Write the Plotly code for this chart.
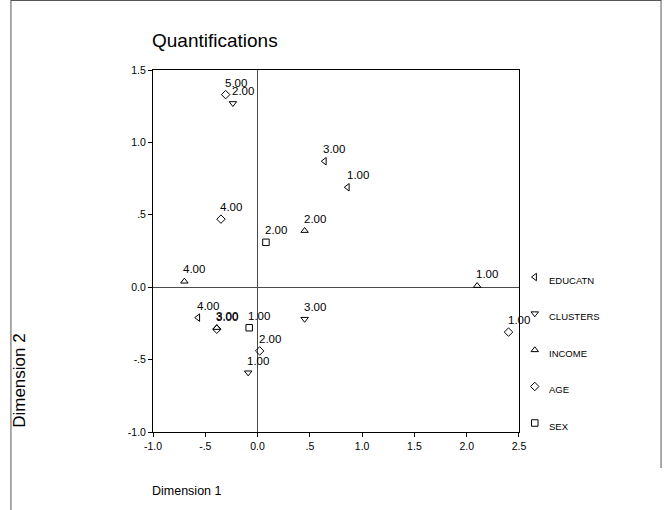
import plotly.graph_objects as go

# ---------------- data ----------------
variables = ["EDUCATN", "CLUSTERS", "INCOME", "AGE", "SEX"]
symbols = ["triangle-left-open", "triangle-down-open", "triangle-up-open",
           "diamond-open", "square-open"]

educatn_cat = ["1.00", "3.00", "4.00"]
educatn_x = [0.86, 0.64, -0.57]
educatn_y = [0.69, 0.87, -0.21]

clusters_cat = ["1.00", "2.00", "3.00"]
clusters_x = [-0.09, -0.236, 0.45]
clusters_y = [-0.59, 1.27, -0.22]

income_cat = ["1.00", "2.00", "3.00", "4.00"]
income_x = [2.10, 0.45, -0.39, -0.70]
income_y = [0.01, 0.39, -0.28, 0.04]

age_cat = ["1.00", "2.00", "3.00", "4.00", "5.00"]
age_x = [2.40, 0.02, -0.39, -0.35, -0.305]
age_y = [-0.31, -0.44, -0.29, 0.47, 1.33]

sex_cat = ["1.00", "2.00"]
sex_x = [-0.08, 0.08]
sex_y = [-0.28, 0.31]

series = [
    (educatn_cat, educatn_x, educatn_y),
    (clusters_cat, clusters_x, clusters_y),
    (income_cat, income_x, income_y),
    (age_cat, age_x, age_y),
    (sex_cat, sex_x, sex_y),
]

tick_vals = [-1.0, -0.5, 0.0, 0.5, 1.0, 1.5, 2.0, 2.5]
tick_text = ["-1.0", "-.5", "0.0", ".5", "1.0", "1.5", "2.0", "2.5"]
ytick_vals = [-1.0, -0.5, 0.0, 0.5, 1.0, 1.5]
ytick_text = ["-1.0", "-.5", "0.0", ".5", "1.0", "1.5"]

title_text = "Quantifications"
xtitle = "Dimension 1"
ytitle = "Dimension 2"

# ---------------- layout helpers ----------------
W, H = 671, 510
L, R, T, B = 153, 0, 70, 78
PW, PH = W - L - R, H - T - B
PLOT_RIGHT = 524


def px_x(px):
    return (px - L) / PW


def px_y(py):
    return (H - B - py) / PH


FONT = "Liberation Sans Narrow, Arial Narrow, Liberation Sans, Arial, sans-serif"

fig = go.Figure()

for (cats, xs, ys), name, sym in zip(series, variables, symbols):
    fig.add_trace(go.Scatter(
        x=xs, y=ys, mode="markers", name=name,
        marker=dict(symbol=sym, size=6.5, color="black",
                    line=dict(color="black", width=1)),
        showlegend=False, hoverinfo="skip",
    ))
    for c, xv, yv in zip(cats, xs, ys):
        fig.add_annotation(x=xv, y=yv, text=c, showarrow=False,
                           xanchor="left", yanchor="bottom",
                           xshift=-3, yshift=4,
                           font=dict(family=FONT, size=11.5, color="black"))

# legend drawn on a secondary axis
leg_idx = list(range(len(variables)))
leg_x0, leg_x1 = 535, 671
fig.add_trace(go.Scatter(
    x=[(540 - leg_x0) / (leg_x1 - leg_x0)] * len(variables), y=leg_idx,
    mode="markers",
    xaxis="x2", yaxis="y2", showlegend=False, hoverinfo="skip",
    marker=dict(symbol=symbols, size=6.5, color="black",
                line=dict(color="black", width=1)),
))
for i, name in zip(leg_idx, variables):
    fig.add_annotation(x=(552 - leg_x0) / (leg_x1 - leg_x0), y=i,
                       xref="x2", yref="y2", text=name,
                       showarrow=False, xanchor="left", yanchor="middle",
                       yshift=-3,
                       font=dict(family=FONT, size=9.5, color="black"))

# legend vertical mapping: item 0 at 277px, spacing 36.5px
y_top = (T - 277) / 36.5
y_bot = (H - B - 277) / 36.5

fig.update_layout(
    width=W, height=H,
    margin=dict(l=L, r=R, t=T, b=B),
    paper_bgcolor="white", plot_bgcolor="white",
    showlegend=False,
    xaxis=dict(domain=[0, px_x(PLOT_RIGHT)], range=[-1.0, 2.5],
               tickvals=tick_vals, ticktext=tick_text,
               showgrid=False, zeroline=True, zerolinecolor="#4a4a4a",
               zerolinewidth=1.3,
               showline=True, linecolor="black", linewidth=1, mirror=True,
               ticks="outside", ticklen=4, tickcolor="black",
               tickfont=dict(family=FONT, size=10.5, color="black")),
    yaxis=dict(domain=[0, 1], range=[-1.0, 1.5],
               tickvals=ytick_vals, ticktext=ytick_text,
               showgrid=False, zeroline=True, zerolinecolor="#4a4a4a",
               zerolinewidth=1.3,
               showline=True, linecolor="black", linewidth=1, mirror=True,
               ticks="outside", ticklen=4, tickcolor="black",
               tickfont=dict(family=FONT, size=10.5, color="black")),
    xaxis2=dict(domain=[px_x(leg_x0), 1], range=[0, 1], visible=False,
                anchor="y2"),
    yaxis2=dict(domain=[0, 1], range=[y_bot, y_top], visible=False,
                anchor="x2"),
)

# titles
fig.add_annotation(x=px_x(150), y=px_y(40), xref="paper", yref="paper",
                   text=title_text, showarrow=False, xanchor="left",
                   yanchor="middle",
                   font=dict(family=FONT, size=19, color="black"))
fig.add_annotation(x=px_x(150), y=px_y(491), xref="paper", yref="paper",
                   text=xtitle, showarrow=False, xanchor="left",
                   yanchor="middle",
                   font=dict(family=FONT, size=12.5, color="black"))
fig.add_annotation(x=px_x(17), y=px_y(380), xref="paper", yref="paper",
                   text=ytitle, showarrow=False, xanchor="center",
                   yanchor="middle", textangle=-90,
                   font=dict(family="Liberation Sans, Arial, sans-serif",
                             size=17, color="black"))

# outer border (left full height, top, right)
fig.add_shape(type="line", xref="paper", yref="paper",
              x0=px_x(9), x1=px_x(9), y0=px_y(0), y1=px_y(H),
              line=dict(color="#555555", width=1))
fig.add_shape(type="line", xref="paper", yref="paper",
              x0=px_x(9), x1=px_x(668), y0=px_y(0.5), y1=px_y(0.5),
              line=dict(color="#555555", width=1))
fig.add_shape(type="line", xref="paper", yref="paper",
              x0=px_x(668), x1=px_x(668), y0=px_y(0), y1=px_y(468),
              line=dict(color="#555555", width=1))

fig.write_html(
    "out.html",
    config={"displayModeBar": False},
    post_script="document.body.style.margin='0';document.body.style.padding='0';",
)
